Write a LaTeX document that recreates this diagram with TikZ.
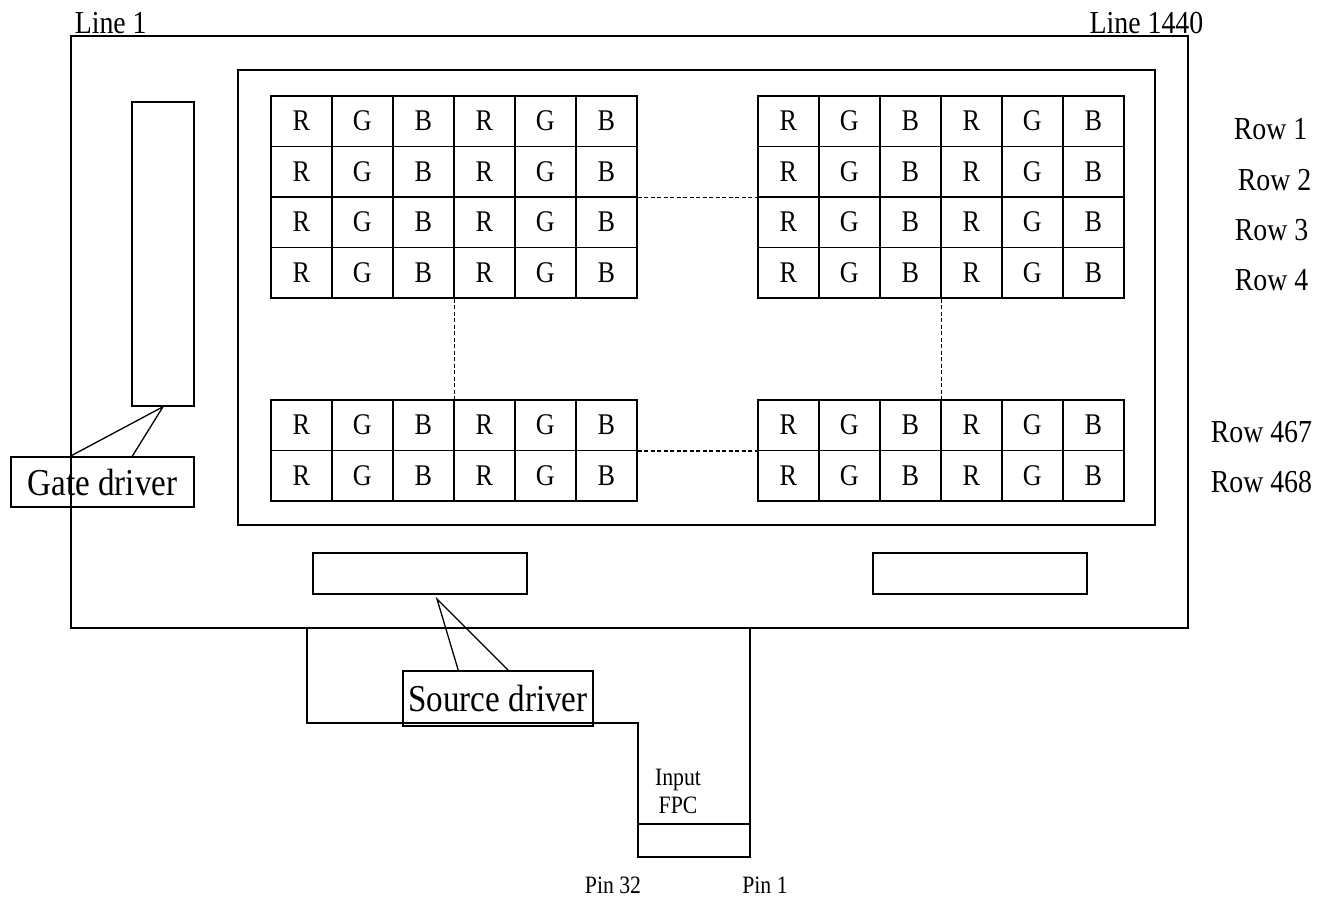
\documentclass[tikz,border=0pt]{standalone}
\usepackage{fontspec}
\setmainfont[FakeStretch=0.87]{Liberation Serif}
\usepackage{tikz}
\usetikzlibrary{positioning,calc}
\tikzstyle{cell}=[draw,line width=1.5pt,anchor=north west,inner sep=0pt,minimum width=61pt,minimum height=50.5pt,font=\fontsize{30}{30}\selectfont]
\tikzstyle{dotline}=[line width=1.3pt,dash pattern=on 4pt off 2.5pt]
\tikzstyle{box}=[draw,line width=1.5pt,inner sep=0pt]
\tikzstyle{lbl}=[inner sep=0pt,font=\fontsize{32}{32}\selectfont]

\begin{document}
\begin{tikzpicture}[x=1pt,y=-1pt,line width=1.5pt]
  \useasboundingbox (0,0) rectangle (1324,897);

  % outer glass and active area
  \draw (71,36) rectangle (1188,628);
  \draw (238,70) rectangle (1155,525);

  % line labels
  \node[lbl,anchor=base west] (line1) at (74,33) {Line 1};
  \node[lbl,anchor=base east] (line1440) at (1204,33) {Line 1440};

  % pixel blocks
  \foreach \gx/\gy/\nr/\gn in {270/95/4/tl,757/95/4/tr,270/399/2/bl,757/399/2/br} {
    \foreach \r in {1,...,\nr} {
      \foreach \ch [count=\c] in {R,G,B,R,G,B} {
        \node[cell] (\gn-\r-\c) at ({\gx+(\c-1)*61},{\gy+(\r-1)*50.5}) {\ch};
      }
    }
  }

  % dotted continuation
  \draw[dotline] (tl-2-6.south east) -- (tr-2-1.south west);
  \draw[dotline] (bl-1-6.south east) -- (br-1-1.south west);
  \draw[dotline] (tl-4-3.south east) -- (bl-1-3.north east);
  \draw[dotline] (tr-4-3.south east) -- (br-1-3.north east);

  % row labels
  \node[lbl,anchor=base west] (row1) at (1233,139) {Row 1};
  \node[lbl,anchor=base west] (row2) at (1237,190) {Row 2};
  \node[lbl,anchor=base west] (row3) at (1234,240) {Row 3};
  \node[lbl,anchor=base west] (row4) at (1234,290) {Row 4};
  \node[lbl,anchor=base west] (row467) at (1210,442) {Row 467};
  \node[lbl,anchor=base west] (row468) at (1210,492) {Row 468};

  % gate driver
  \node[box,minimum width=62pt,minimum height=304pt] (gdrv) at (163,254) {};
  \node[box,minimum width=183pt,minimum height=50pt,font=\fontsize{38}{38}\selectfont] (gdlabel) at (102.5,482) {Gate driver};
  \draw[line width=1.3pt] ($(gdlabel.north west)+(60,0)$) -- (gdrv.south) -- ($(gdlabel.north west)+(122,0)$);

  % source drivers
  \node[box,minimum width=214pt,minimum height=41pt] (sdl) at (420,573.5) {};
  \node[box,minimum width=214pt,minimum height=41pt] (sdr) at (980,573.5) {};
  \coordinate (sdtip) at (437,599);
  \node[box,minimum width=190pt,minimum height=55pt,font=\fontsize{38}{38}\selectfont] (sdlabel) at (498,698.5) {Source driver};
  \draw[line width=1.3pt] ($(sdlabel.north west)+(56,0)$) -- (sdtip) -- ($(sdlabel.north west)+(106,0)$);

  % input FPC
  \draw (307,628) -- (307,723) -- (638,723) -- (638,857) -- (750,857) -- (750,628);
  \draw (638,824) -- (750,824);
  \node[align=center,inner sep=0pt,font=\fontsize{25}{28}\selectfont] (fpc) at (678,791) {Input\\FPC};

  % pins
  \node[inner sep=0pt,anchor=base,font=\fontsize{25}{25}\selectfont] (pin32) at (613,893) {Pin 32};
  \node[inner sep=0pt,anchor=base,font=\fontsize{25}{25}\selectfont] (pin1) at (765,893) {Pin 1};

\end{tikzpicture}
\end{document}
